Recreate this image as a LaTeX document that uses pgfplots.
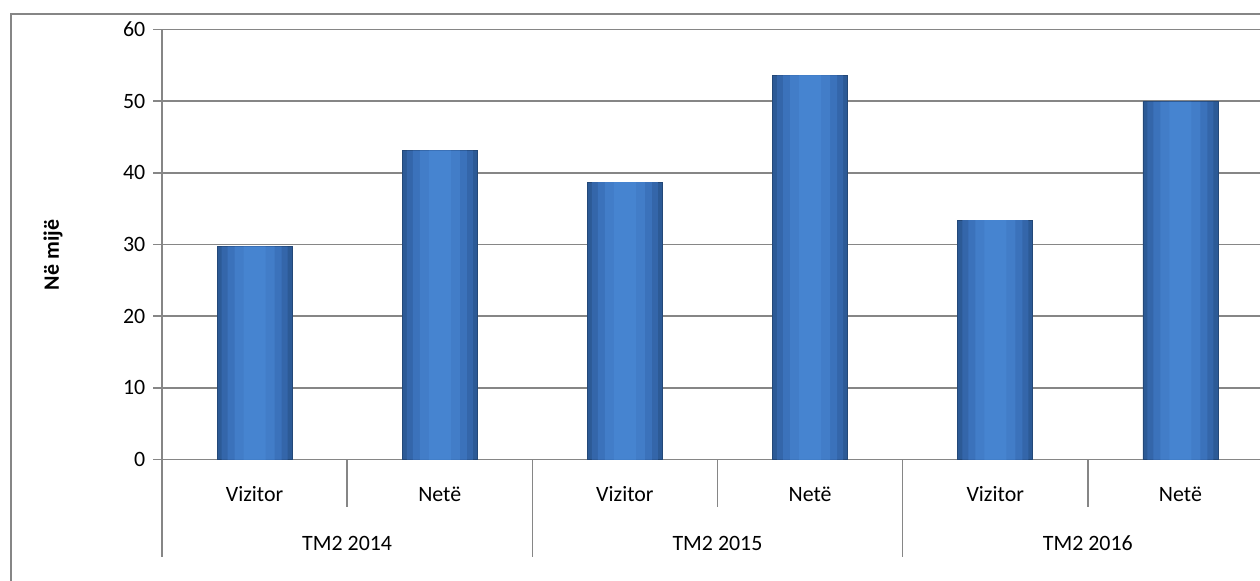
\documentclass[border=0pt,11pt]{standalone}
\usepackage{fontspec}
\setmainfont{Carlito}
\usepackage{pgfplots}
\pgfplotsset{compat=1.18}
\definecolor{gridgray}{HTML}{868686}
\definecolor{barEdge}{HTML}{2C5A96}
\definecolor{barA}{HTML}{3466AA}
\definecolor{barB}{HTML}{3B72BB}
\definecolor{barC}{HTML}{427DC8}
\definecolor{barD}{HTML}{4684D0}

\begin{document}
\begin{tikzpicture}
\useasboundingbox (0,0) rectangle (630pt,290pt);
\clip (0,0) rectangle (630pt,290pt);
\draw[gridgray, line width=0.75pt] (5.5pt,-20pt) rectangle (700pt,283pt);
\begin{axis}[
    at={(81pt,60.25pt)}, anchor=south west,
    scale only axis,
    width=555.5pt, height=215pt,
    xmin=-0.5, xmax=5.5,
    ymin=0, ymax=60,
    ytick={0,10,...,60},
    xtick=\empty,
    ymajorgrids,
    grid style={gridgray, line width=0.75pt},
    axis lines*=left,
    axis line style={gridgray, line width=0.75pt},
    tick style={gridgray, line width=0.75pt},
    tick align=outside,
    major tick length=4.5pt,
    /pgf/number format/assume math mode=true,
    clip=false,
]
\pgfplotstableread{
x  y
0  29.7
1  43.1
2  38.7
3  53.6
4  33.4
5  49.9
}\datatable
% layered bars give the rounded gradient look
\addplot[ybar, bar width=37.5pt, draw=barEdge!80!black, fill=barEdge] table {\datatable};
\addplot[ybar, bar width=33pt, draw=none, fill=barA] table {\datatable};
\addplot[ybar, bar width=27pt, draw=none, fill=barB] table {\datatable};
\addplot[ybar, bar width=20pt, draw=none, fill=barC] table {\datatable};
\addplot[ybar, bar width=11pt, draw=none, fill=barD] table {\datatable};

% category separators
\draw[gridgray, line width=0.75pt] (axis cs:0.5,0) -- ([yshift=-23.75pt]axis cs:0.5,0);
\draw[gridgray, line width=0.75pt] (axis cs:2.5,0) -- ([yshift=-23.75pt]axis cs:2.5,0);
\draw[gridgray, line width=0.75pt] (axis cs:4.5,0) -- ([yshift=-23.75pt]axis cs:4.5,0);
\draw[gridgray, line width=0.75pt] (axis cs:-0.5,0) -- ([yshift=-48.75pt]axis cs:-0.5,0);
\draw[gridgray, line width=0.75pt] (axis cs:1.5,0) -- ([yshift=-48.75pt]axis cs:1.5,0);
\draw[gridgray, line width=0.75pt] (axis cs:3.5,0) -- ([yshift=-48.75pt]axis cs:3.5,0);
\draw[gridgray, line width=0.75pt] (axis cs:5.5,0) -- ([yshift=-48.75pt]axis cs:5.5,0);

% category labels
\node at ([yshift=-17.25pt]axis cs:0,0) {Vizitor};
\node at ([yshift=-17.25pt]axis cs:1,0) {Netë};
\node at ([yshift=-17.25pt]axis cs:2,0) {Vizitor};
\node at ([yshift=-17.25pt]axis cs:3,0) {Netë};
\node at ([yshift=-17.25pt]axis cs:4,0) {Vizitor};
\node at ([yshift=-17.25pt]axis cs:5,0) {Netë};
\node at ([yshift=-41.75pt]axis cs:0.5,0) {TM2 2014};
\node at ([yshift=-41.75pt]axis cs:2.5,0) {TM2 2015};
\node at ([yshift=-41.75pt]axis cs:4.5,0) {TM2 2016};
\end{axis}
\node[rotate=90, font=\bfseries] at (26.5pt,162.5pt) {Në mijë};
\end{tikzpicture}
\end{document}
